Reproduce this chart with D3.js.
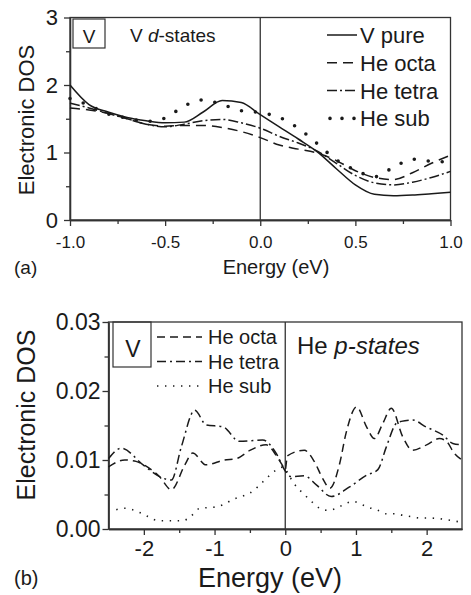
<!DOCTYPE html>
<html>
<head>
<meta charset="utf-8">
<script src="https://cdn.jsdelivr.net/npm/d3@7"></script>
<style>
  body { margin: 0; background: #fff; }
  svg { font-family: "Liberation Sans", Arial, sans-serif; }
</style>
</head>
<body>
<svg id="chart" width="471" height="595"></svg>
<script>
// panel (a): V d-states, energy grid in eV
var dEnergy = [-1.0,-0.9,-0.8,-0.7,-0.6,-0.5,-0.4,-0.3,-0.2,-0.1,0.0,0.1,0.2,0.3,0.4,0.5,0.6,0.7,0.8,0.9,1.0];
var vPure   = [2.00,1.71,1.60,1.52,1.47,1.44,1.45,1.60,1.77,1.74,1.56,1.38,1.20,1.01,0.76,0.52,0.38,0.36,0.37,0.39,0.41];
var heOcta  = [1.66,1.63,1.58,1.50,1.42,1.39,1.40,1.40,1.37,1.31,1.22,1.11,1.05,0.99,0.88,0.73,0.63,0.60,0.70,0.84,0.96];
var heTetra = [1.73,1.66,1.58,1.50,1.42,1.38,1.42,1.47,1.49,1.44,1.36,1.24,1.14,1.02,0.84,0.66,0.55,0.52,0.56,0.63,0.72];
var heSub   = [1.80,1.70,1.57,1.51,1.46,1.51,1.69,1.78,1.71,1.62,1.59,1.52,1.36,1.13,0.89,0.74,0.64,0.78,0.90,0.87,0.86];
var dLabels = ["V pure", "He octa", "He tetra", "He sub"];

// panel (b): He p-states
var pOctaE = [-2.5,-2.27,-2.11,-2.0,-1.78,-1.61,-1.42,-1.31,-1.12,-0.86,-0.69,-0.5,-0.27,-0.13,-0.05,0.0,0.03,0.27,0.41,0.53,0.63,0.77,0.86,1.01,1.15,1.26,1.38,1.50,1.66,1.80,2.0,2.18,2.28,2.39,2.5];
var pOcta  = [0.0090,0.0100,0.0098,0.0093,0.0076,0.0057,0.0093,0.0110,0.0093,0.0100,0.0102,0.0114,0.0122,0.0107,0.0094,0.0086,0.0106,0.0114,0.0098,0.0073,0.0059,0.0095,0.0139,0.0177,0.0148,0.0131,0.0153,0.0175,0.0134,0.0114,0.0122,0.0131,0.0127,0.0110,0.0100];
var pTetraE = [-2.5,-2.32,-2.01,-1.78,-1.61,-1.47,-1.28,-1.12,-0.88,-0.65,-0.32,-0.13,0.0,0.08,0.27,0.44,0.65,0.91,1.15,1.31,1.43,1.57,1.64,1.80,1.99,2.23,2.37,2.5];
var pTetra  = [0.0102,0.0117,0.0093,0.0076,0.0071,0.0119,0.0172,0.0151,0.0148,0.0127,0.0129,0.0110,0.0084,0.0076,0.0077,0.0064,0.0047,0.0061,0.0078,0.0086,0.0119,0.0153,0.0156,0.0158,0.0148,0.0136,0.0124,0.0122];
var pSubE = [-2.39,-2.27,-2.16,-2.04,-1.92,-1.80,-1.57,-1.45,-1.33,-1.21,-1.10,-0.98,-0.86,-0.74,-0.62,-0.50,-0.39,-0.27,-0.15,-0.02,0.05,0.16,0.25,0.37,0.49,0.60,0.72,0.84,0.96,1.07,1.19,1.31,1.43,1.55,1.66,1.78,1.90,2.02,2.25,2.37,2.48];
var pSub  = [0.0028,0.0030,0.0028,0.0023,0.0017,0.0012,0.0012,0.0012,0.0019,0.0030,0.0031,0.0032,0.0036,0.0043,0.0047,0.0052,0.0061,0.0073,0.0084,0.0090,0.0078,0.0061,0.0052,0.0040,0.0030,0.0027,0.0030,0.0036,0.0040,0.0036,0.0031,0.0027,0.0022,0.0022,0.0020,0.0018,0.0016,0.0016,0.0014,0.0012,0.0010];
var pLabels = ["He octa", "He tetra", "He sub"];

var ink = "#1a1a1a";
var svg = d3.select("#chart");

function drawFrame(g, x, y, opts) {
  var x0 = x.range()[0], x1 = x.range()[1], y0 = y.range()[0], y1 = y.range()[1];
  // minor ticks first
  g.append("g").attr("transform", `translate(0,${y0})`)
    .call(d3.axisBottom(x).tickValues(opts.xMinor).tickSize(4).tickFormat("").tickSizeOuter(0));
  g.append("g").attr("transform", `translate(${x0},0)`)
    .call(d3.axisLeft(y).tickValues(opts.yMinor).tickSize(4).tickFormat("").tickSizeOuter(0));
  var xa = g.append("g").attr("transform", `translate(0,${y0})`)
    .call(d3.axisBottom(x).tickValues(opts.xMajor).tickSize(6).tickPadding(opts.xPad).tickFormat(opts.xFmt).tickSizeOuter(0));
  xa.selectAll("text").attr("font-size", opts.xFont).attr("fill", ink);
  var ya = g.append("g").attr("transform", `translate(${x0},0)`)
    .call(d3.axisLeft(y).tickValues(opts.yMajor).tickSize(6).tickPadding(opts.yPad).tickFormat(opts.yFmt).tickSizeOuter(0));
  ya.selectAll("text").attr("font-size", opts.yFont).attr("fill", ink);
  g.selectAll(".domain, .tick line").attr("stroke", "#333").attr("stroke-width", 1.3);
  // box and Fermi level
  g.append("rect").attr("x", x0).attr("y", y1).attr("width", x1 - x0).attr("height", y0 - y1)
    .attr("fill", "none").attr("stroke", "#333").attr("stroke-width", 1.3);
  g.append("line").attr("x1", x(0)).attr("x2", x(0)).attr("y1", y1).attr("y2", y0)
    .attr("stroke", "#333").attr("stroke-width", 1.3);
}

// ---------- panel (a)
var xa = d3.scaleLinear().domain([-1, 1]).range([70, 450.5]);
var ya = d3.scaleLinear().domain([0, 3]).range([220, 17.5]);
var ga = svg.append("g");
drawFrame(ga, xa, ya, {
  xMajor: [-1, -0.5, 0, 0.5, 1], xMinor: [-0.75, -0.25, 0.25, 0.75],
  yMajor: [0, 1, 2, 3], yMinor: [0.5, 1.5, 2.5],
  xFmt: d => d.toFixed(1), yFmt: d => d.toString(),
  xPad: 10, yPad: 6, xFont: 17, yFont: 22
});

var dashA = ["none", "10 6", "10 3 2 3", "0 14"];
var seriesA = [vPure, heOcta, heTetra, heSub];
var lineA = d3.line().curve(d3.curveMonotoneX)
  .x((d, i) => xa(dEnergy[i])).y(d => ya(d));
seriesA.forEach(function (s, k) {
  ga.append("path").attr("d", lineA(s)).attr("fill", "none").attr("stroke", ink)
    .attr("stroke-width", k == 3 ? 3.6 : 1.5)
    .attr("stroke-linecap", k == 3 ? "round" : "butt")
    .attr("stroke-dasharray", dashA[k]);
});

// legend (a)
dLabels.forEach(function (lab, k) {
  var cy = 35 + k * 27.8;
  ga.append("line").attr("x1", 327).attr("x2", 357).attr("y1", cy).attr("y2", cy)
    .attr("stroke", ink).attr("stroke-width", k == 3 ? 3.6 : 1.5)
    .attr("stroke-linecap", k == 3 ? "round" : "butt")
    .attr("stroke-dasharray", k == 3 ? "0 12" : dashA[k])
    .attr("stroke-dashoffset", k == 3 ? -3 : 0);
  ga.append("text").attr("x", 360).attr("y", cy + 8).attr("font-size", 22).attr("fill", ink).text(lab);
});

ga.append("rect").attr("x", 73).attr("y", 19).attr("width", 32).attr("height", 29)
  .attr("fill", "none").attr("stroke", "#333").attr("stroke-width", 1.2);
ga.append("text").attr("x", 89).attr("y", 43).attr("text-anchor", "middle").attr("font-size", 19).attr("fill", ink).text("V");
var ta = ga.append("text").attr("x", 130).attr("y", 42).attr("font-size", 19).attr("fill", ink);
ta.append("tspan").text("V ");
ta.append("tspan").attr("font-style", "italic").text("d");
ta.append("tspan").text("-states");

ga.append("text").attr("x", 276).attr("y", 274).attr("text-anchor", "middle").attr("font-size", 20).attr("fill", ink).text("Energy (eV)");
ga.append("text").attr("x", 14).attr("y", 274).attr("font-size", 19).attr("fill", ink).text("(a)");
ga.append("text").attr("transform", "translate(26,120) rotate(-90)").attr("text-anchor", "middle")
  .attr("dominant-baseline", "central").attr("font-size", 22).attr("fill", ink).text("Electronic DOS");

// ---------- panel (b)
var xb = d3.scaleLinear().domain([-2.5, 2.5]).range([108.5, 462]);
var yb = d3.scaleLinear().domain([0, 0.03]).range([529, 322]);
var gb = svg.append("g");
drawFrame(gb, xb, yb, {
  xMajor: [-2, -1, 0, 1, 2], xMinor: [-1.5, -0.5, 0.5, 1.5],
  yMajor: [0, 0.01, 0.02, 0.03], yMinor: [0.005, 0.015, 0.025],
  xFmt: d => d.toString(), yFmt: d => d.toFixed(2),
  xPad: 5, yPad: 2, xFont: 22, yFont: 23
});

var seriesB = [[pOctaE, pOcta], [pTetraE, pTetra], [pSubE, pSub]];
var dashB = ["8 5", "9 4 2 4", "1.4 6.6"];
seriesB.forEach(function (s, k) {
  var line = d3.line().curve(d3.curveMonotoneX)
    .x((d, i) => xb(s[0][i])).y(d => yb(d));
  gb.append("path").attr("d", line(s[1])).attr("fill", "none").attr("stroke", ink)
    .attr("stroke-width", k == 2 ? 1.6 : 1.5).attr("stroke-dasharray", dashB[k]);
});

pLabels.forEach(function (lab, k) {
  var cy = 337 + k * 24.5;
  gb.append("line").attr("x1", 157).attr("x2", 202).attr("y1", cy).attr("y2", cy)
    .attr("stroke", ink).attr("stroke-width", 1.5).attr("stroke-dasharray", dashB[k]);
  gb.append("text").attr("x", 208).attr("y", cy + 7).attr("font-size", 20).attr("fill", ink).text(lab);
});

gb.append("rect").attr("x", 113).attr("y", 322).attr("width", 38).attr("height", 45)
  .attr("fill", "none").attr("stroke", "#333").attr("stroke-width", 1.2);
gb.append("text").attr("x", 133).attr("y", 357).attr("text-anchor", "middle").attr("font-size", 23).attr("fill", ink).text("V");
var tb = gb.append("text").attr("x", 297).attr("y", 354).attr("font-size", 24).attr("fill", ink);
tb.append("tspan").text("He ");
tb.append("tspan").attr("font-style", "italic").text("p-states");

gb.append("text").attr("x", 270).attr("y", 587).attr("text-anchor", "middle").attr("font-size", 27).attr("fill", ink).text("Energy (eV)");
gb.append("text").attr("x", 14).attr("y", 585).attr("font-size", 20).attr("fill", ink).text("(b)");
gb.append("text").attr("transform", "translate(26,415) rotate(-90)").attr("text-anchor", "middle")
  .attr("dominant-baseline", "central").attr("font-size", 25).attr("fill", ink).text("Electronic DOS");
</script>
</body>
</html>
